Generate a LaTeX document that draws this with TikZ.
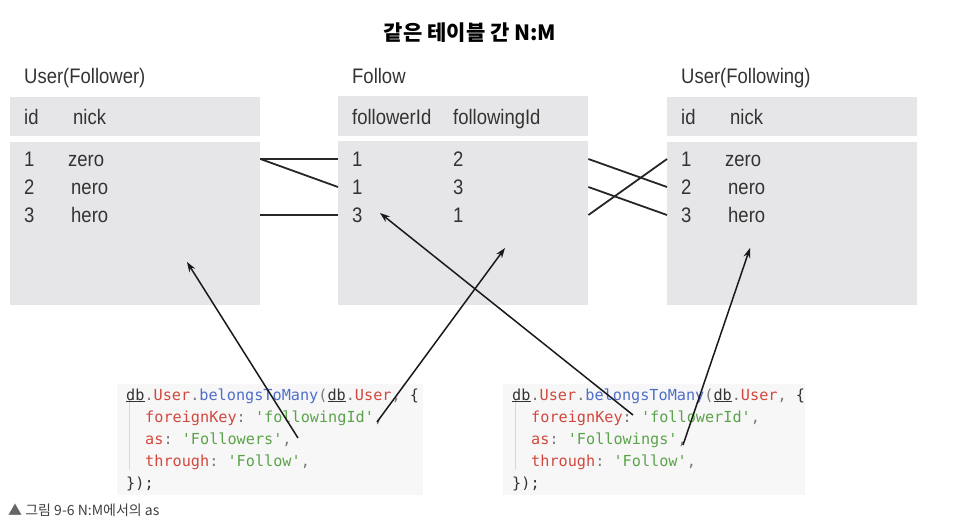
\documentclass[tikz,border=0pt]{standalone}
\usepackage{fontspec}
\usepackage{xcolor}
\usetikzlibrary{arrows.meta}
\setmonofont{DejaVu Sans Mono}
\newfontfamily\cjk{Noto Sans CJK KR}
\newfontfamily\tblfont[FakeStretch=0.88]{Liberation Sans}

\definecolor{boxgray}{HTML}{E6E6E8}
\definecolor{codebg}{HTML}{F7F7F7}
\definecolor{txtdark}{HTML}{333333}
\definecolor{kwred}{HTML}{D2483E}
\definecolor{fnblue}{HTML}{4F6FC8}
\definecolor{strgreen}{HTML}{5BA34B}
\definecolor{punct}{HTML}{7A7A7A}

% code colouring
\newcommand{\cred}[1]{\textcolor{kwred}{#1}}
\newcommand{\cblue}[1]{\textcolor{fnblue}{#1}}
\newcommand{\cgreen}[1]{\textcolor{strgreen}{#1}}
\newcommand{\cgray}[1]{\textcolor{punct}{#1}}
\newcommand{\cdb}{\textcolor{txtdark}{\underline{db}}}

\begin{document}
\begin{tikzpicture}[x=1pt,y=-1pt,
    tblbox/.style={fill=boxgray,draw=none,inner sep=0pt,anchor=north west,minimum width=250pt},
    cell/.style={anchor=west,inner sep=0pt,text height=15pt,text depth=0pt,text=txtdark,
        font=\tblfont\fontsize{21pt}{25pt}\selectfont},
    codebox/.style={fill=codebg,draw=none,inner sep=0pt,anchor=north west,minimum height=111pt},
    codeline/.style={anchor=base west,inner sep=0pt,text=txtdark,
        font=\ttfamily\fontsize{15.2pt}{18pt}\selectfont},
    link/.style={draw=black!85,line width=1.8pt},
    pointer/.style={draw=black!90,line width=1.5pt,-{Stealth[length=10pt,width=7pt]}}]
    \useasboundingbox (0,0) rectangle (968,532);

% Title
\node (title) at (470,33) {\cjk\bfseries\fontsize{21pt}{25pt}\selectfont 같은 테이블 간 N:M};

% Table boxes
\node[tblbox,minimum height=39pt] (lhead) at (10,97) {};
\node[tblbox,minimum height=163pt] (lbody) at (10,142) {};
\node[tblbox,minimum height=40pt] (fhead) at (338,96) {};
\node[tblbox,minimum height=164pt] (fbody) at (338,141) {};
\node[tblbox,minimum height=39pt] (rhead) at (667,97) {};
\node[tblbox,minimum height=163pt] (rbody) at (667,142) {};

% Table names and headers
\node[cell] (lname) at (24,76) {User(Follower)};
\node[cell] (fname) at (352,76) {Follow};
\node[cell] (rname) at (681,76) {User(Following)};

\node[cell] (lhid) at (24,117) {id};
\node[cell] (lhnick) at (73,117) {nick};
\node[cell] (fhfer) at (352,117) {followerId};
\node[cell] (fhfing) at (453,117) {followingId};
\node[cell] (rhid) at (681,117) {id};
\node[cell] (rhnick) at (730,117) {nick};

% Rows
\foreach \id/\nick/\nx [count=\i] in {1/zero/68,2/nero/71,3/hero/71} {
    \node[cell] (lid\i) at (24,131+28*\i) {\id};
    \node[cell] (lnick\i) at (\nx,131+28*\i) {\nick};
}
\foreach \fer/\fing [count=\i] in {1/2,1/3,3/1} {
    \node[cell] (fid\i) at (352,131+28*\i) {\fer};
    \node[cell] (fing\i) at (453,131+28*\i) {\fing};
}
\foreach \id/\nick/\nx [count=\i] in {1/zero/725,2/nero/728,3/hero/728} {
    \node[cell] (rid\i) at (681,131+28*\i) {\id};
    \node[cell] (rnick\i) at (\nx,131+28*\i) {\nick};
}

% Row links
\draw[link] (lbody.east |- lid1) -- (fbody.west |- fid1);
\draw[link] (lbody.east |- lid1) -- (fbody.west |- fid2);
\draw[link] (lbody.east |- lid3) -- (fbody.west |- fid3);
\draw[link] (fbody.east |- fid1) -- (rbody.west |- rid2);
\draw[link] (fbody.east |- fid2) -- (rbody.west |- rid3);
\draw[link] (fbody.east |- fid3) -- (rbody.west |- rid1);

% Code, left
\node[codebox,minimum width=306pt] (lcode) at (117,384) {};
\draw[black!15,line width=1pt] (129,400) -- (129,470);
\node[codeline] (lc1) at (126,400) {\cdb\cgray{.}\cred{User}\cgray{.}\cblue{belongsToMany}\cgray{(}\cdb\cgray{.}\cred{User}\cgray{,} \{};
\node[codeline] (lc2) at (145,422) {\cred{foreignKey}\cgray{:} \cgreen{'followingId'}\cgray{,}};
\node[codeline] (lc3) at (145,444) {\cred{as}\cgray{:} \cgreen{'Followers'}\cgray{,}};
\node[codeline] (lc4) at (145,466) {\cred{through}\cgray{:} \cgreen{'Follow'}\cgray{,}};
\node[codeline] (lc5) at (126,488) {\});};

% Code, right
\node[codebox,minimum width=302pt] (rcode) at (503,384) {};
\draw[black!15,line width=1pt] (515,400) -- (515,470);
\node[codeline] (rc1) at (512,400) {\cdb\cgray{.}\cred{User}\cgray{.}\cblue{belongsToMany}\cgray{(}\cdb\cgray{.}\cred{User}\cgray{,} \{};
\node[codeline] (rc2) at (531,422) {\cred{foreignKey}\cgray{:} \cgreen{'followerId'}\cgray{,}};
\node[codeline] (rc3) at (531,444) {\cred{as}\cgray{:} \cgreen{'Followings'}\cgray{,}};
\node[codeline] (rc4) at (531,466) {\cred{through}\cgray{:} \cgreen{'Follow'}\cgray{,}};
\node[codeline] (rc5) at (512,488) {\});};

% Pointers from code to tables
\coordinate (lfrom1) at (298,438);
\coordinate (lfrom2) at (377,422);
\coordinate (rfrom1) at (633,415);
\coordinate (rfrom2) at (683,445);
\coordinate (lto) at (187,262);
\coordinate (fto1) at (505,248);
\coordinate (fto3) at (380,213);
\coordinate (rto) at (750,248);
\draw[pointer] (lfrom1) -- (lto);
\draw[pointer] (lfrom2) -- (fto1);
\draw[pointer] (rfrom1) -- (fto3);
\draw[pointer] (rfrom2) -- (rto);

% Caption
\node[anchor=base west,inner sep=0pt,text=black!75] (caption) at (8,515)
    {\cjk\fontsize{14pt}{16pt}\selectfont \textcolor{black!60}{▲} 그림 9-6 N:M에서의 as};

\end{tikzpicture}
\end{document}
